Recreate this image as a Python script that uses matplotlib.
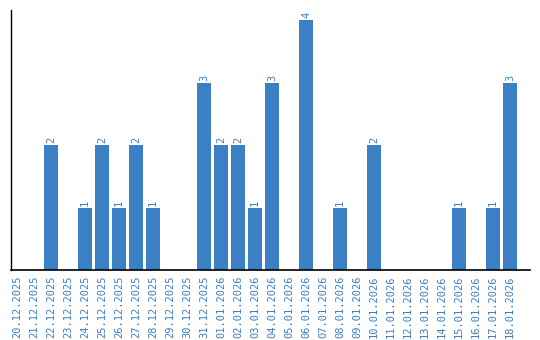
import matplotlib
matplotlib.use('Agg')
import matplotlib.pyplot as plt

dates = ['20.12.2025', '21.12.2025', '22.12.2025', '23.12.2025', '24.12.2025',
         '25.12.2025', '26.12.2025', '27.12.2025', '28.12.2025', '29.12.2025',
         '30.12.2025', '31.12.2025', '01.01.2026', '02.01.2026', '03.01.2026',
         '04.01.2026', '05.01.2026', '06.01.2026', '07.01.2026', '08.01.2026',
         '09.01.2026', '10.01.2026', '11.01.2026', '12.01.2026', '13.01.2026',
         '14.01.2026', '15.01.2026', '16.01.2026', '17.01.2026', '18.01.2026']
counts = [0, 0, 2, 0, 1, 2, 1, 2, 1, 0,
          0, 3, 2, 2, 1, 3, 0, 4, 0, 1,
          0, 2, 0, 0, 0, 0, 1, 0, 1, 3]

blue = '#3b7fc4'

fig = plt.figure(figsize=(5.4, 3.4), dpi=100)
ax = fig.add_axes([11 / 540, 1 - 270 / 340, 519 / 540, 260 / 340])

x = list(range(len(dates)))
ax.bar(x, counts, width=0.82, color=blue)

# labels on top of the bars
for i, v in zip(x, counts):
    if v > 0:
        ax.text(i, v + 0.03, str(v), rotation=90, ha='center', va='bottom',
                color=blue, fontsize=7.5, family='DejaVu Sans Mono')

ax.set_xlim(-0.35, len(dates) - 1 + 1.18)
ax.set_ylim(0, 4.16)
ax.set_xticks(x)
ax.set_xticklabels(dates, rotation=90, color=blue, fontsize=7.5,
                   family='DejaVu Sans Mono')
ax.tick_params(axis='x', length=0, pad=4)
ax.set_yticks([])

for s in ['top', 'right']:
    ax.spines[s].set_visible(False)
ax.spines['left'].set_linewidth(1)
ax.spines['bottom'].set_linewidth(1.2)

fig.savefig('out.png', dpi=100)
